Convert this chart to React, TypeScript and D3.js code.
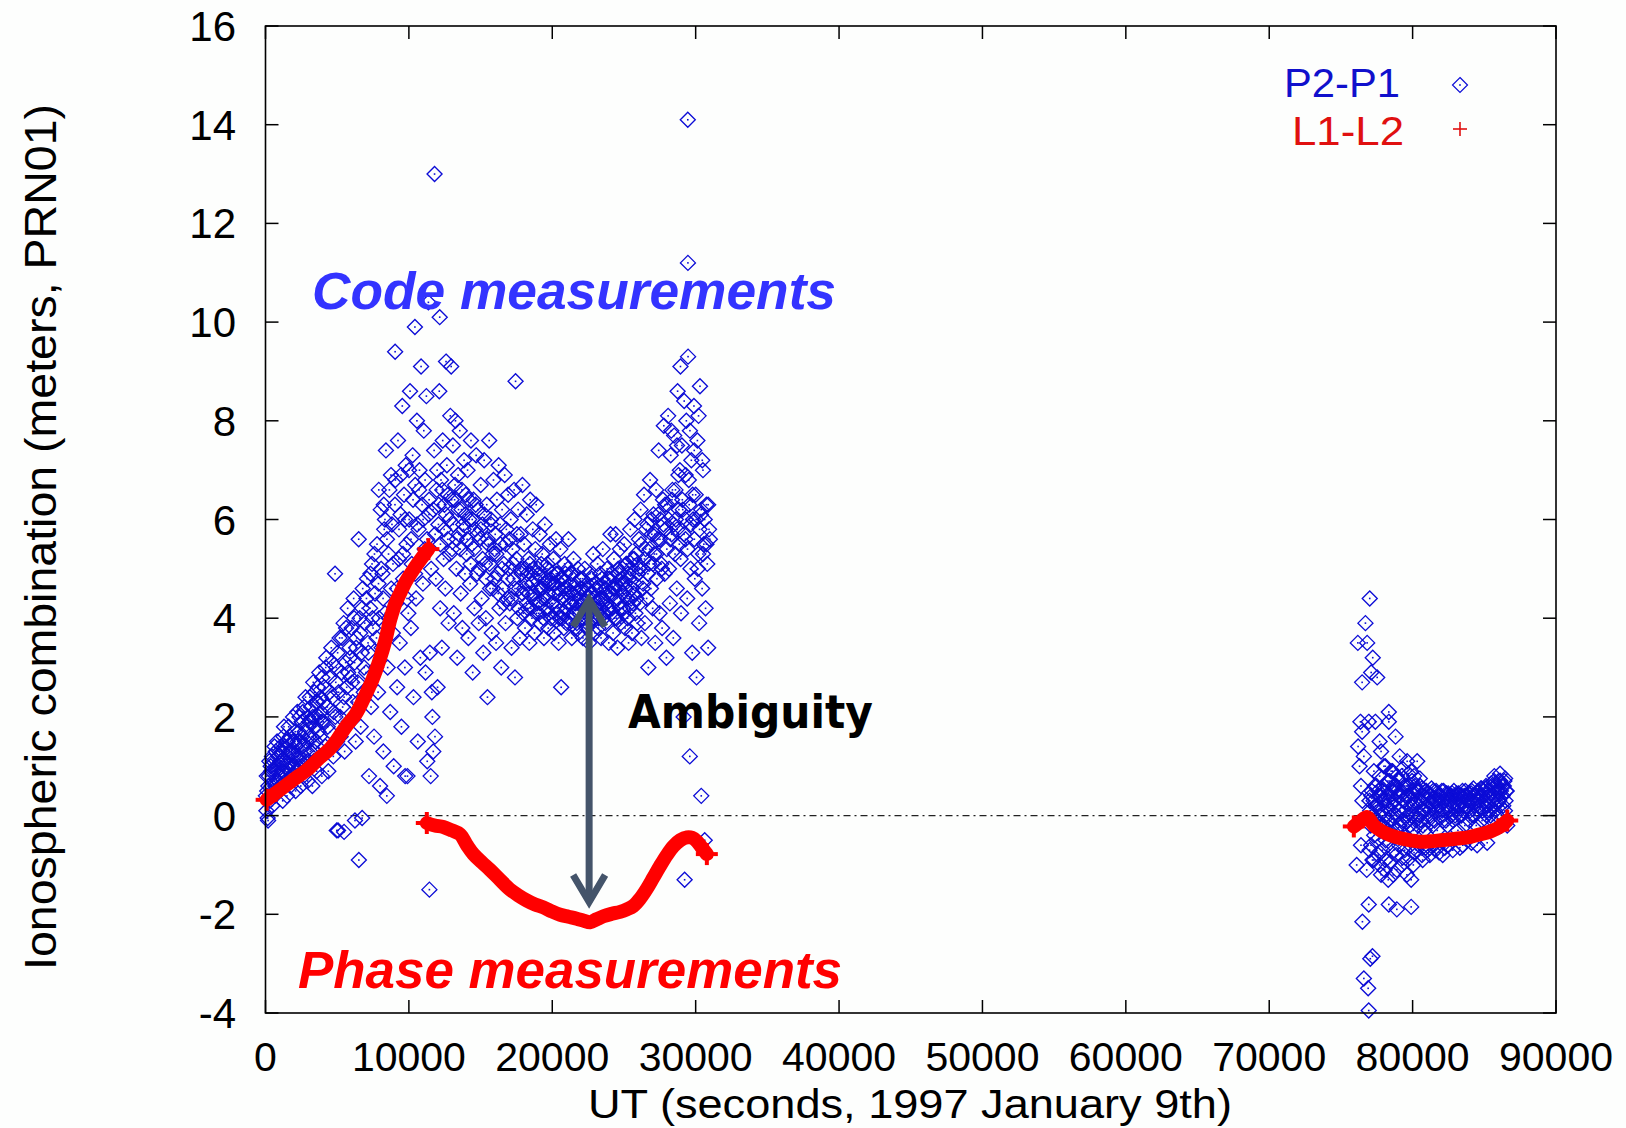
import React from "react";
import * as d3 from "d3";

// ---------- data ----------
const xTicks = [0, 10000, 20000, 30000, 40000, 50000, 60000, 70000, 80000, 90000];
const yTicks = [-4, -2, 0, 2, 4, 6, 8, 10, 12, 14, 16];

// P2-P1 code combination, first pass [UT s, metres]
const codePass1: [number, number][] = [
  [60,0.1],[120,0.5],[150,-0.05],[180,-0.1],[240,0.8],[300,0.3],[360,1.0],[420,0.6],[480,0.2],[540,1.1],[600,0.7],[660,0.4],[720,1.3],[780,0.9],[840,0.5],[900,1.2],[960,0.8],
  [1020,0.6],[1080,1.4],[1140,0.9],[1200,0.3],[1260,1.6],[1320,1.1],[1380,0.7],[1440,1.5],[1500,0.4],[1560,1.2],[1620,1.8],[1680,0.9],[1740,0.6],[1800,1.3],[1860,1.0],[1920,2.0],[1980,0.8],
  [2040,1.5],[2100,0.5],[2160,1.2],[2220,2.1],[2280,0.9],[2340,1.7],[2400,1.1],[2460,0.6],[2520,1.9],[2580,1.4],[2640,0.8],[2700,2.2],[2760,1.3],[2820,1.0],[2880,1.8],[2940,0.7],
  [3030,1.6],[3090,2.4],[3150,1.0],[3210,1.9],[3270,0.6],[3330,2.7],[3390,1.3],[3450,2.0],[3510,1.5],[3570,0.9],[3630,2.3],[3690,1.7],[3750,2.9],[3810,1.2],[3870,2.1],[3930,0.8],
  [4030,1.9],[4100,2.6],[4170,1.4],[4240,3.2],[4310,2.2],[4380,0.9],[4450,2.8],[4520,1.7],[4590,3.4],[4660,2.4],[4730,1.2],[4850,4.9],[4870,2.0],[4940,3.0],[4970,-0.3],[4990,1.5],
  [5060,-0.3],[5100,2.5],[5170,3.6],[5240,1.6],[5310,2.9],[5380,2.2],[5450,3.9],[5480,-0.33],[5520,1.3],[5590,3.1],[5660,2.6],[5730,4.2],[5800,1.9],[5870,3.4],[5940,2.8],
  [6010,3.8],[6080,2.3],[6150,4.4],[6220,3.1],[6240,-0.1],[6290,1.5],[6360,3.6],[6430,2.7],[6500,5.6],[6510,-0.9],[6570,4.0],[6640,1.8],[6710,3.3],[6740,-0.05],[6780,4.6],[6850,2.5],[6920,3.9],
  [7010,2.9],[7080,4.8],[7150,3.5],[7220,0.8],[7290,4.2],[7360,2.2],[7430,5.1],[7500,3.8],[7570,1.6],[7640,4.5],[7710,3.0],[7780,5.5],[7850,2.5],[7900,6.6],[7920,4.0],[7990,0.6],
  [8040,6.2],[8100,3.4],[8160,4.9],[8220,1.3],[8250,6.3],[8280,5.8],[8340,4.1],[8400,7.4],[8460,0.4],[8520,3.0],[8580,5.3],[8640,6.6],[8700,2.1],[8760,4.6],[8820,5.9],[8880,3.7],[8940,1.0],[9040,9.4],
  [9060,6.8],[9120,4.3],[9180,2.6],[9240,7.6],[9300,5.2],[9360,3.5],[9420,6.1],[9480,1.8],[9540,8.3],[9600,4.8],[9660,6.5],[9720,3.0],[9740,0.8],[9780,7.1],[9840,5.5],[9900,0.8],[9960,4.1],
  [10020,6.0],[10080,8.6],[10140,3.8],[10200,5.1],[10260,7.3],[10320,2.4],[10420,9.9],[10440,6.7],[10500,4.4],[10560,8.0],[10620,1.5],[10680,5.8],[10740,7.0],[10800,3.2],[10850,9.1],[10920,6.3],[10980,4.7],
  [11040,7.8],[11100,5.4],[11160,2.9],[11220,8.5],[11280,1.1],[11360,10.4],[11430,-1.5],[11400,6.1],[11460,3.3],[11520,0.8],[11600,2.5],[11640,2.0],[11700,1.3],[11790,13.0],[11760,7.4],[11820,1.6],[11880,4.8],[11940,6.6],[12000,2.6],
  [12060,5.9],[12120,8.6],[12150,10.1],[12180,4.2],[12240,6.8],[12300,3.4],[12360,7.6],[12420,5.2],[12480,6.3],[12540,4.6],[12590,9.2],[12650,7.1],[12710,5.6],[12770,3.9],[12830,6.0],[12890,8.1],[12950,9.1],
  [13010,5.4],[13070,7.5],[13130,4.1],[13190,6.4],[13250,8.0],[13310,5.0],[13370,3.2],[13430,6.9],[13490,5.7],[13550,7.8],[13610,4.5],[13670,6.2],[13730,3.8],[13790,5.9],[13850,7.2],[13910,4.9],[13970,6.5],
  [14030,5.3],[14090,7.0],[14150,3.6],[14210,6.0],[14270,4.7],[14330,7.6],[14390,5.5],[14450,2.9],[14510,6.4],[14570,4.2],[14630,5.8],[14690,7.3],[14750,4.9],[14810,6.2],[14870,3.9],[14930,5.6],
  [15010,6.7],[15070,4.4],[15130,5.9],[15190,3.3],[15250,7.2],[15310,5.1],[15370,4.0],[15430,6.3],[15480,2.4],[15540,5.5],[15600,7.6],[15660,4.6],[15720,6.0],[15780,3.7],[15840,5.3],[15900,6.8],[15960,4.8],
  [16020,5.7],[16080,3.5],[16140,6.4],[16200,4.9],[16260,7.1],[16320,4.2],[16380,5.5],[16440,3.0],[16500,6.2],[16560,4.6],[16620,5.1],[16680,6.9],[16740,3.9],[16800,5.8],[16860,4.4],[16920,6.5],[16980,5.0],
  [17040,4.3],[17100,6.0],[17160,3.4],[17220,5.4],[17280,4.8],[17340,6.6],[17400,2.8],[17440,8.8],[17500,5.2],[17560,4.0],[17620,6.2],[17680,4.6],[17740,3.6],[17800,5.7],[17860,4.9],[17920,6.7],[17980,4.1],
  [18040,5.5],[18100,3.8],[18160,4.7],[18220,6.1],[18280,4.2],[18340,5.2],[18400,3.5],[18460,6.4],[18520,4.9],[18580,4.0],[18640,5.8],[18700,4.5],[18760,3.7],[18820,5.4],[18880,6.3],[18940,4.3],
  [19000,5.0],[19060,4.1],[19120,5.7],[19180,3.9],[19240,4.6],[19300,5.3],[19360,4.4],[19420,3.6],[19480,5.9],[19540,4.8],[19600,4.2],[19660,5.1],[19720,3.8],[19780,4.7],[19840,5.5],[19900,4.0],[19960,4.9],
  [20020,4.3],[20080,5.2],[20140,3.7],[20200,4.7],[20260,5.6],[20320,4.1],[20380,4.9],[20440,3.5],[20500,4.5],[20560,5.4],[20620,2.6],[20680,4.0],[20740,4.8],[20800,3.8],[20860,5.1],[20920,4.4],[20980,3.9],
  [21040,4.6],[21100,5.0],[21130,5.6],[21180,3.9],[21240,4.3],[21300,4.9],[21360,3.6],[21420,4.5],[21480,5.2],[21540,4.1],[21600,3.8],[21660,4.7],[21720,4.2],[21780,5.0],[21840,3.7],[21900,4.4],[21960,4.8],
  [22020,4.0],[22080,4.6],[22140,3.6],[22200,4.3],[22260,5.0],[22320,4.1],[22380,3.8],[22440,4.7],[22500,4.4],[22560,3.5],[22620,4.9],[22680,4.2],[22740,3.9],[22800,4.5],[22860,5.3],[22920,4.0],[22980,3.7],
  [23040,4.6],[23100,4.1],[23160,5.1],[23220,3.8],[23280,4.4],[23340,4.9],[23400,3.6],[23460,4.3],[23520,5.4],[23580,4.0],[23640,4.7],[23700,3.9],[23760,4.5],[23820,5.0],[23880,4.2],[23940,3.5],
  [24000,4.8],[24060,5.7],[24120,4.1],[24180,4.5],[24240,3.7],[24300,5.2],[24360,4.6],[24420,5.7],[24480,4.0],[24540,3.4],[24600,4.9],[24660,4.3],[24720,5.4],[24780,3.9],[24840,4.7],[24900,5.0],[24960,4.2],
  [25020,5.5],[25080,3.8],[25140,4.6],[25200,5.1],[25260,4.0],[25320,3.5],[25380,4.8],[25440,5.8],[25500,4.4],[25560,3.7],[25620,5.2],[25680,4.5],[25740,6.0],[25800,4.1],[25860,5.3],[25920,3.9],[25980,4.9],
  [26040,5.6],[26100,4.3],[26160,6.2],[26220,3.6],[26280,5.0],[26340,4.7],[26400,6.5],[26460,3.9],[26520,5.4],[26580,4.4],[26640,5.9],[26700,3.0],[26760,5.1],[26820,6.8],[26880,4.6],[26940,5.7],
  [27000,4.2],[27060,6.1],[27120,5.3],[27180,3.5],[27240,6.6],[27300,4.8],[27360,5.6],[27420,7.4],[27480,4.1],[27540,6.0],[27600,5.1],[27660,3.8],[27720,6.4],[27780,7.9],[27840,4.9],[27900,5.8],[27960,3.2],
  [28020,6.3],[28080,8.1],[28140,5.0],[28200,4.3],[28260,7.3],[28300,7.8],[28320,5.7],[28380,6.6],[28440,3.6],[28500,7.7],[28560,5.3],[28620,6.0],[28680,4.6],[28700,7.5],[28740,8.6],[28800,6.9],[28860,5.5],[28900,7.0],[28940,9.1],[28980,4.1],
  [29040,7.5],[29100,6.2],[29160,2.0],[29200,8.4],[29230,-1.3],[29290,5.6],[29300,6.9],[29350,8.0],[29410,4.4],[29450,14.1],[29460,11.2],[29470,9.3],[29520,6.8],[29590,1.2],[29600,7.8],[29640,5.0],[29700,7.2],[29760,3.3],[29820,6.0],[29880,8.3],[29900,7.4],[29940,4.8],
  [30000,6.5],[30060,2.8],[30120,7.6],[30180,5.3],[30200,8.1],[30240,3.9],[30300,8.7],[30360,6.1],[30390,0.4],[30450,4.6],[30460,7.2],[30510,7.0],[30570,5.5],[30630,-0.5],[30690,4.2],[30750,6.3],[30810,5.1],[30870,3.4],[30930,5.8],
];

// P2-P1, first pass: the dense core of the cloud
const codePass1Core: [number, number][] = [
  [30,0.4],[90,0.8],[200,0.6],[270,1.1],[330,0.4],[390,0.9],[450,1.2],[510,0.5],[570,0.9],[630,1.4],[690,0.6],[750,1.0],[810,1.5],[870,0.7],[930,1.0],[990,1.3],
  [1050,1.1],[1110,0.6],[1170,1.3],[1230,0.9],[1290,1.8],[1350,1.4],[1410,1.0],[1470,0.8],[1530,1.5],[1590,1.0],[1650,1.3],[1710,1.6],[1770,1.1],[1830,0.8],[1890,1.5],[1950,1.2],
  [2010,1.0],[2070,1.7],[2130,1.4],[2190,0.9],[2250,1.5],[2310,1.2],[2370,2.0],[2430,1.5],[2490,1.0],[2550,1.6],[2610,2.1],[2670,1.2],[2730,1.7],[2790,2.4],[2850,1.5],[2910,1.1],[2970,2.0],
  [3060,1.9],[3120,1.3],[3180,2.2],[3240,1.6],[3300,2.0],[3360,1.1],[3420,2.5],[3480,1.8],[3540,2.3],[3600,1.4],[3660,2.6],[3720,2.0],[3780,1.6],[3840,2.4],[3900,1.9],[3960,2.8],
  [4060,2.3],[4200,3.0],[4340,1.8],[4480,2.5],[4620,3.1],[4760,2.1],[4900,2.7],[5030,3.3],[5200,2.0],[5340,3.6],[5480,2.4],[5620,3.8],[5760,2.9],[5900,3.2],[6040,2.7],[6180,4.0],
  [6320,3.4],[6460,2.3],[6600,3.7],[6740,4.2],[6880,3.0],[7040,4.4],[7180,3.3],[7320,4.9],[7460,4.0],[7600,5.3],[7740,3.6],[7880,4.7],
  [8060,5.0],[8200,4.4],[8330,6.0],[8470,5.6],[8610,4.0],[8750,6.9],[8890,5.1],[9030,6.3],[9170,4.6],[9310,5.8],[9450,6.9],[9590,5.3],[9730,6.0],[9870,4.4],
  [10010,7.0],[10150,5.6],[10290,6.4],[10430,4.9],[10570,5.9],[10710,6.6],[10850,5.2],[10990,6.0],[11130,6.8],[11270,5.6],[11410,6.4],[11550,5.0],[11690,6.2],[11830,5.7],[11970,7.0],
  [12080,6.3],[12200,5.5],[12330,6.6],[12460,5.8],[12590,6.1],[12720,6.5],[12850,5.3],[12980,6.4],[13100,5.9],[13220,6.7],[13340,5.6],[13460,6.2],[13580,5.4],[13700,6.6],[13820,5.8],[13940,6.1],
  [14060,5.6],[14180,6.4],[14300,5.1],[14420,6.0],[14540,5.4],[14660,6.3],[14780,5.7],[14900,5.0],[15020,5.8],[15140,5.2],[15260,6.1],[15380,4.8],[15500,5.6],[15620,5.1],[15740,5.9],[15860,4.6],[15980,5.4],
  [16100,5.3],[16230,4.5],[16360,5.9],[16490,5.0],[16620,4.3],[16750,5.5],[16880,4.8],[17010,5.6],[17140,4.4],[17270,5.1],[17400,4.6],[17530,5.7],[17660,4.2],[17790,5.0],[17920,4.5],
  [18030,4.6],[18110,5.0],[18190,4.3],[18270,4.9],[18350,4.5],[18430,5.1],[18510,4.2],[18590,4.7],[18670,5.0],[18750,4.4],[18830,4.8],[18910,4.1],[18990,4.6],
  [19070,4.9],[19150,4.3],[19230,5.1],[19310,4.6],[19390,4.0],[19470,4.7],[19550,4.4],[19630,5.0],[19710,4.5],[19790,4.1],[19870,4.8],[19950,4.3],
  [20030,4.7],[20110,4.0],[20190,4.5],[20270,4.9],[20350,4.2],[20430,4.6],[20510,4.0],[20590,4.8],[20670,4.4],[20750,4.1],[20830,4.6],[20910,4.9],[20990,4.2],
  [21070,4.5],[21150,4.0],[21230,4.7],[21310,4.3],[21390,4.9],[21470,4.1],[21550,4.6],[21630,4.3],[21710,3.9],[21790,4.5],[21870,4.1],[21950,4.6],
  [22030,4.3],[22110,4.8],[22190,4.0],[22270,4.5],[22350,4.2],[22430,3.9],[22510,4.6],[22590,4.1],[22670,4.5],[22750,4.8],[22830,4.0],[22910,4.4],[22990,4.2],
  [23070,4.7],[23150,4.3],[23230,4.0],[23310,4.6],[23390,4.2],[23470,4.8],[23550,4.4],[23630,4.1],[23710,4.6],[23790,4.3],[23870,4.8],[23950,4.2],
  [24030,4.5],[24110,4.9],[24190,4.2],[24270,4.6],[24350,4.0],[24430,4.7],[24510,4.4],[24590,5.0],[24670,4.6],[24750,4.2],[24830,4.8],[24910,4.5],[24990,4.1],
  [25070,4.7],[25150,5.1],[25230,4.4],[25310,4.9],[25390,4.2],[25470,5.0],[25550,4.6],[25630,4.3],[25710,5.2],[25790,4.7],[25870,4.4],[25950,5.1],
  [26070,5.0],[26190,5.5],[26310,4.6],[26430,5.2],[26550,5.8],[26670,4.9],[26790,5.4],[26910,6.0],[27030,5.1],[27150,5.7],[27270,5.3],[27390,6.1],[27510,5.6],[27630,5.0],[27750,5.9],[27870,6.3],[27990,5.4],
  [28110,6.0],[28230,5.6],[28350,6.4],[28470,5.9],[28590,6.6],[28710,5.8],[28830,6.2],[28950,5.2],[29070,6.4],[29190,5.7],[29310,6.0],[29430,5.4],[29550,6.3],[29670,5.9],[29790,6.5],[29910,5.6],
  [30030,6.0],[30150,5.0],[30270,5.8],[30390,6.2],[30510,5.3],[30630,6.0],[30750,5.5],[30870,6.3],[30990,5.6],
];

// P2-P1 code combination, second pass [UT s, metres]
const codePass2: [number, number][] = [
  [76180,3.5],[76830,3.5],[77010,4.4],[76710,3.9],[77220,3.2],[77110,2.9],[76480,2.7],[77530,2.8],[78340,2.1],[78340,1.9],[76360,1.9],[76940,1.9],[77400,1.9],[76480,1.7],[78810,1.6],
  [76200,1.4],[76600,1.2],[77700,1.5],[77800,1.3],[80320,1.1],[79620,1.1],[76300,1.0],[76400,0.6],[76500,0.3],[78000,1.0],[78600,0.9],[79100,1.2],[79900,0.9],
  [76100,-1.0],[76800,-1.1],[77200,-0.9],[77800,-1.2],[78300,-1.3],[78900,-1.1],[79600,-1.2],[79900,-1.3],[80700,-0.9],[81200,-0.8],[82100,-0.8],
  [76400,-0.6],[77000,-0.7],[77600,-0.8],[78100,-0.9],[78700,-0.7],[79300,-0.85],[80100,-0.75],[80900,-0.65],[81600,-0.7],[82500,-0.6],[83300,-0.65],[84100,-0.55],
  [76940,-1.8],[78340,-1.8],[78900,-1.9],[79900,-1.85],[76500,-2.15],[77050,-2.9],[77200,-2.85],[76600,-3.3],[76900,-3.5],[76940,-3.95],
  [77000,0.3],[77080,-0.2],[77160,0.5],[77240,0.0],[77320,-0.4],[77400,0.2],[77480,0.6],[77560,-0.1],[77640,0.4],[77720,-0.3],[77800,0.1],[77880,0.5],[77960,-0.2],
  [78040,0.3],[78120,-0.5],[78200,0.2],[78280,0.7],[78360,-0.1],[78440,0.4],[78520,-0.4],[78600,0.0],[78680,0.6],[78760,0.2],[78840,-0.3],[78920,0.5],
  [79000,0.1],[79080,-0.2],[79160,0.4],[79240,0.8],[79320,-0.1],[79400,0.3],[79480,-0.4],[79560,0.6],[79640,0.0],[79720,0.4],[79800,-0.2],[79880,0.2],[79960,0.7],
  [80040,-0.3],[80120,0.3],[80200,0.0],[80280,0.5],[80360,-0.2],[80440,0.2],[80520,0.6],[80600,-0.1],[80680,0.4],[80760,0.1],[80840,-0.3],[80920,0.5],
  [81000,0.2],[81080,-0.1],[81160,0.4],[81240,0.0],[81320,0.55],[81400,-0.2],[81480,0.3],[81560,0.1],[81640,0.5],[81720,-0.3],[81800,0.2],[81880,0.4],[81960,0.0],
  [82040,0.5],[82120,-0.1],[82200,0.3],[82280,0.1],[82360,0.45],[82440,-0.2],[82520,0.2],[82600,0.4],[82680,0.0],[82760,0.45],[82840,-0.1],[82920,0.3],
  [83000,0.1],[83080,0.45],[83160,-0.3],[83240,0.2],[83320,0.4],[83400,0.0],[83480,0.5],[83560,0.2],[83640,-0.2],[83720,0.4],[83800,0.1],[83880,0.45],[83960,-0.1],
  [84040,0.3],[84120,0.5],[84200,0.0],[84280,0.4],[84360,0.2],[84440,-0.2],[84520,0.45],[84600,0.1],[84680,0.3],[84760,0.55],[84840,-0.1],[84920,0.4],
  [85000,0.2],[85080,0.55],[85160,0.0],[85240,0.3],[85320,0.5],[85400,0.1],[85480,0.65],[85560,-0.1],[85640,0.4],[85720,0.2],[85800,0.6],[85880,0.0],[85960,0.5],
  [86040,0.3],[86120,0.7],[86200,-0.2],[86280,0.4],[86360,0.6],[86440,0.1],[86520,0.5],[86600,-0.2],
];

// P2-P1, second pass: the dense band
const codePass2Core: [number, number][] = [
  [77040,0.1],[77120,0.4],[77200,-0.1],[77280,0.3],[77360,0.6],[77440,-0.2],[77520,0.2],[77600,0.5],[77680,0.0],[77760,0.4],[77840,-0.2],[77920,0.3],
  [78000,0.6],[78080,0.0],[78160,0.4],[78240,-0.3],[78320,0.3],[78400,0.7],[78480,0.1],[78560,0.5],[78640,-0.2],[78720,0.3],[78800,0.6],[78880,0.0],[78960,0.4],
  [79040,0.7],[79120,0.1],[79200,0.5],[79280,-0.2],[79360,0.3],[79440,0.6],[79520,0.1],[79600,0.4],[79680,-0.1],[79760,0.6],[79840,0.3],[79920,0.0],
  [80000,0.5],[80080,0.2],[80160,0.6],[80240,-0.1],[80320,0.3],[80400,0.5],[80480,0.0],[80560,0.3],[80640,0.55],[80720,-0.2],[80800,0.4],[80880,0.1],[80960,0.5],
  [81040,0.3],[81120,0.45],[81200,0.1],[81280,0.4],[81360,0.2],[81440,0.5],[81520,-0.1],[81600,0.3],[81680,0.45],[81760,0.1],[81840,0.4],[81920,0.2],
  [82000,0.4],[82080,0.1],[82160,0.5],[82240,0.3],[82320,-0.1],[82400,0.4],[82480,0.45],[82560,0.1],[82640,0.3],[82720,0.4],[82800,0.2],[82880,0.5],[82960,0.0],
  [83040,0.4],[83120,0.2],[83200,0.45],[83280,0.0],[83360,0.3],[83440,0.4],[83520,0.1],[83600,0.4],[83680,0.5],[83760,0.2],[83840,0.3],[83920,0.45],
  [84000,0.1],[84080,0.45],[84160,0.3],[84240,0.55],[84320,0.0],[84400,0.4],[84480,0.3],[84560,0.5],[84640,0.2],[84720,0.4],[84800,0.55],[84880,0.1],[84960,0.5],
  [85040,0.3],[85120,0.6],[85200,0.2],[85280,0.5],[85360,0.4],[85440,0.0],[85520,0.6],[85600,0.3],[85680,0.7],[85760,0.1],[85840,0.5],[85920,0.3],
  [86000,0.7],[86080,0.2],[86160,0.5],[86240,0.6],[86320,0.2],[86400,0.7],[86480,0.3],[86560,0.5],
];

// P2-P1, second pass: ragged edges of the band
const codePass2Edges: [number, number][] = [
  [77100,-0.6],[77300,-0.9],[77500,-0.5],[77700,-1.0],[77900,-0.7],[78050,-1.1],[78250,-0.6],[78450,-0.95],[78650,-1.2],[78850,-0.8],
  [79050,-0.6],[79250,-1.0],[79450,-0.7],[79650,-0.9],[79850,-0.6],[80050,-1.0],[80250,-0.7],[80450,-0.6],[80650,-0.8],[81050,-0.7],
  [81450,-0.6],[81850,-0.75],[82250,-0.65],[82800,-0.7],[83500,-0.6],[84500,-0.6],[85200,-0.55],
  [77300,0.9],[77700,0.8],[78100,1.0],[78500,0.9],[78900,0.8],[79300,0.95],[79700,0.85],[80100,0.8],[80500,0.75],[85700,0.8],[86100,0.85],[86450,0.75],
];

// L1-L2 phase combination, three arcs [UT s, metres]
const phaseArc1: [number, number][] = [
  [80,0.32],[1000,0.52],[2000,0.74],[2870,0.92],[3700,1.15],[4410,1.33],[4970,1.53],[5600,1.8],[6300,2.06],[6900,2.4],
  [7480,2.77],[7950,3.15],[8360,3.55],[8690,3.96],[9060,4.3],[9380,4.5],[9800,4.75],[10310,4.98],[10900,5.22],[11360,5.4],
];
const phaseArc2: [number, number][] = [
  [11250,-0.15],[11800,-0.2],[12400,-0.23],[13000,-0.3],[13570,-0.38],[14050,-0.6],[14500,-0.78],[15100,-0.95],[15660,-1.1],
  [16350,-1.3],[17060,-1.5],[17650,-1.62],[18220,-1.72],[18800,-1.8],[19380,-1.86],[19950,-1.94],[20550,-2.01],[21130,-2.05],
  [21710,-2.09],[22200,-2.13],[22640,-2.16],[23100,-2.1],[23570,-2.04],[24150,-1.99],[24730,-1.95],[25200,-1.9],[25660,-1.83],
  [26130,-1.68],[26600,-1.48],[27060,-1.25],[27520,-1.02],[27990,-0.8],[28450,-0.62],[28920,-0.5],[29390,-0.44],[29750,-0.45],
  [30080,-0.52],[30430,-0.65],[30780,-0.78],
];
const phaseArc3: [number, number][] = [
  [75900,-0.22],[76350,-0.12],[76830,-0.03],[77300,-0.2],[77760,-0.3],[78450,-0.4],[79150,-0.46],[79850,-0.5],[80550,-0.53],
  [81250,-0.52],[81950,-0.5],[82650,-0.48],[83340,-0.46],[84030,-0.43],[84730,-0.38],[85430,-0.32],[86130,-0.22],[86600,-0.1],
];

// ambiguity arrow: UT and the two ends (metres)
const ambiguityT = 22570;
const ambiguityRange = [4.44, -1.81];

// ---------- chart ----------
const W = 1626, H = 1128;
const M = { left: 265.5, right: 1556, top: 26, bottom: 1013 };
const FONT = "'Liberation Sans', Arial, Helvetica, sans-serif";
const BLUE = "#0c0cd6";
const RED = "#ff0000";

export default function App() {
  const x = d3.scaleLinear().domain([0, 90000]).range([M.left, M.right]);
  const y = d3.scaleLinear().domain([-4, 16]).range([M.bottom, M.top]);
  const line = d3
    .line<[number, number]>()
    .x((d) => x(d[0]))
    .y((d) => y(d[1]))
    .curve(d3.curveCatmullRom);

  const diamond = (cx: number, cy: number, r: number) =>
    `M${cx},${cy - r}L${cx + r},${cy}L${cx},${cy + r}L${cx - r},${cy}Z`;

  const allCode = codePass1.concat(codePass1Core, codePass2, codePass2Core, codePass2Edges);
  const tickLen = 13;
  const ax = x(ambiguityT);
  const aTop = y(ambiguityRange[0]);
  const aBot = y(ambiguityRange[1]);

  return (
    <svg
      width={W}
      height={H}
      viewBox={`0 0 ${W} ${H}`}
      style={{ position: "absolute", left: 0, top: 0, background: "#fdfefd" }}
    >
      <rect x={0} y={0} width={W} height={H} fill="#fdfefd" />

      {/* zero line */}
      <line
        x1={M.left}
        x2={M.right}
        y1={y(0)}
        y2={y(0)}
        stroke="#222"
        strokeWidth={1.3}
        strokeDasharray="7,4,2,4"
      />

      {/* P2-P1 diamonds */}
      <g>
        {allCode.map((d, i) => {
          const cx = x(d[0]);
          const cy = y(d[1]);
          return (
            <g key={i}>
              <path d={diamond(cx, cy, 7.5)} fill="none" stroke={BLUE} strokeWidth={1.35} />
              <rect x={cx - 0.8} y={cy - 0.8} width={1.6} height={1.6} fill={BLUE} />
            </g>
          );
        })}
      </g>

      {/* L1-L2 arcs */}
      {[phaseArc1, phaseArc2, phaseArc3].map((arc, i) => (
        <g key={i}>
          <path
            d={line(arc) || ""}
            fill="none"
            stroke={RED}
            strokeWidth={14}
            strokeLinecap="round"
            strokeLinejoin="round"
          />
          {[arc[0], arc[arc.length - 1]].map((d, j) => (
            <g key={j} stroke={RED} strokeWidth={4}>
              <line x1={x(d[0]) - 11} x2={x(d[0]) + 11} y1={y(d[1])} y2={y(d[1])} />
              <line x1={x(d[0])} x2={x(d[0])} y1={y(d[1]) - 11} y2={y(d[1]) + 11} />
            </g>
          ))}
        </g>
      ))}

      {/* frame */}
      <rect
        x={M.left}
        y={M.top}
        width={M.right - M.left}
        height={M.bottom - M.top}
        fill="none"
        stroke="#000"
        strokeWidth={1.6}
      />

      {/* ticks */}
      {xTicks.map((t) => (
        <g key={"x" + t}>
          <line x1={x(t)} x2={x(t)} y1={M.bottom} y2={M.bottom - tickLen} stroke="#000" strokeWidth={1.5} />
          <line x1={x(t)} x2={x(t)} y1={M.top} y2={M.top + tickLen} stroke="#000" strokeWidth={1.5} />
          <text x={x(t)} y={1071} textAnchor="middle" fontFamily={FONT} fontSize={41} fill="#000">
            {t}
          </text>
        </g>
      ))}
      {yTicks.map((t) => (
        <g key={"y" + t}>
          <line x1={M.left} x2={M.left + tickLen} y1={y(t)} y2={y(t)} stroke="#000" strokeWidth={1.5} />
          <line x1={M.right} x2={M.right - tickLen} y1={y(t)} y2={y(t)} stroke="#000" strokeWidth={1.5} />
          <text x={236} y={y(t) + 15} textAnchor="end" fontFamily={FONT} fontSize={42} fill="#000">
            {t}
          </text>
        </g>
      ))}

      {/* axis titles */}
      <text
        x={910}
        y={1118}
        textAnchor="middle"
        fontFamily={FONT}
        fontSize={40}
        textLength={644}
        lengthAdjust="spacingAndGlyphs"
        fill="#000"
      >
        UT (seconds, 1997 January 9th)
      </text>
      <text
        transform={`translate(56,537) rotate(-90)`}
        textAnchor="middle"
        fontFamily={FONT}
        fontSize={44}
        textLength={866}
        lengthAdjust="spacingAndGlyphs"
        fill="#000"
      >
        Ionospheric combination (meters, PRN01)
      </text>

      {/* legend */}
      <text x={1400} y={97} textAnchor="end" fontFamily={FONT} fontSize={40} fill="#1010cc" textLength={116} lengthAdjust="spacingAndGlyphs">
        P2-P1
      </text>
      <path d={diamond(1460, 85, 7.5)} fill="none" stroke={BLUE} strokeWidth={1.2} />
      <rect x={1459.2} y={84.2} width={1.6} height={1.6} fill={BLUE} />
      <text x={1404} y={145} textAnchor="end" fontFamily={FONT} fontSize={40} fill="#e01010" textLength={112} lengthAdjust="spacingAndGlyphs">
        L1-L2
      </text>
      <g stroke="#e01010" strokeWidth={1.6}>
        <line x1={1453} x2={1467} y1={129} y2={129} />
        <line x1={1460} x2={1460} y1={122} y2={136} />
      </g>

      {/* annotations */}
      <text
        x={312}
        y={309}
        fontFamily={FONT}
        fontWeight="bold"
        fontStyle="italic"
        fontSize={51}
        fill="#3333ff"
        textLength={524}
        lengthAdjust="spacingAndGlyphs"
      >
        Code measurements
      </text>
      <text
        x={298}
        y={988}
        fontFamily={FONT}
        fontWeight="bold"
        fontStyle="italic"
        fontSize={51}
        fill="#ff0000"
        textLength={544}
        lengthAdjust="spacingAndGlyphs"
      >
        Phase measurements
      </text>
      <text
        x={628}
        y={728}
        fontFamily="'DejaVu Sans', Verdana, sans-serif"
        fontWeight="bold"
        fontSize={46}
        fill="#000"
        textLength={245}
        lengthAdjust="spacingAndGlyphs"
      >
        Ambiguity
      </text>

      {/* ambiguity arrow */}
      <g stroke="#44546a" strokeWidth={7} fill="none" strokeLinecap="butt" strokeLinejoin="miter">
        <line x1={ax} x2={ax} y1={aTop + 4} y2={aBot - 4} />
        <polyline points={`${ax - 16},${aTop + 30} ${ax},${aTop + 3} ${ax + 16},${aTop + 30}`} />
        <polyline points={`${ax - 16},${aBot - 30} ${ax},${aBot - 3} ${ax + 16},${aBot - 30}`} />
      </g>
    </svg>
  );
}
